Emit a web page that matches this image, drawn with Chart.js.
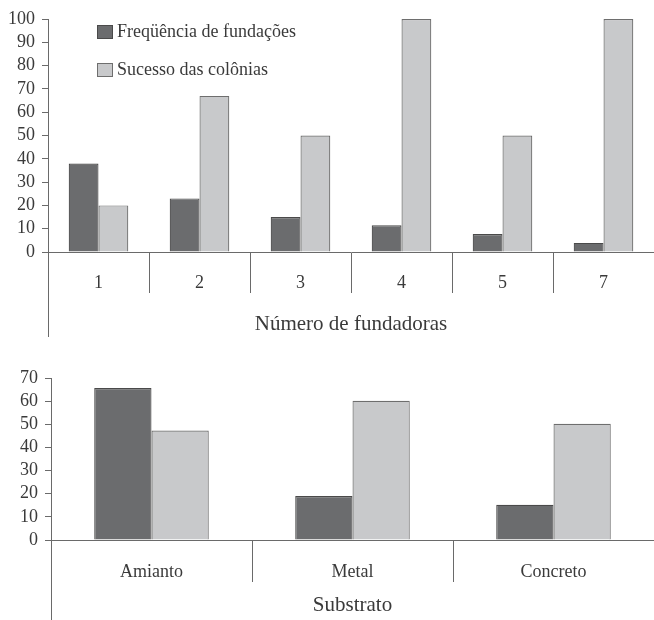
<!DOCTYPE html>
<html>
<head>
<meta charset="utf-8">
<script src="https://cdn.jsdelivr.net/npm/chart.js@4"></script>
<style>
  body { margin: 0; background: #fff; }
  #wrap { position: relative; width: 654px; height: 620px; overflow: hidden; }
  .box { position: absolute; left: 0; width: 654px; }
  #topBox { top: 0; height: 345px; }
  #botBox { top: 360px; height: 260px; }
  #legend { position: absolute; left: 97px; top: 21px; font-family: 'Liberation Serif', 'Times New Roman', serif; font-size: 18px; color: #3a3a3a; }
  #legend .item { display: flex; align-items: center; height: 21px; margin-bottom: 17px; }
  #legend .sw { width: 14px; height: 12px; border: 1px solid #4a4a4a; margin-right: 4px; }
</style>
</head>
<body>
<div id="wrap">
  <div class="box" id="topBox"><canvas id="topChart"></canvas></div>
  <div class="box" id="botBox"><canvas id="botChart"></canvas></div>
  <div id="legend"></div>
</div>
<script>
const seriesNames = ['Freqüência de fundações', 'Sucesso das colônias'];

const founders = ['1', '2', '3', '4', '5', '7'];
const foundFreq = [38, 23, 15, 11.5, 7.7, 3.9];
const foundSuccess = [20, 67, 50, 100, 50, 100];

const substrates = ['Amianto', 'Metal', 'Concreto'];
const subFreq = [65.7, 19, 15.2];
const subSuccess = [47.3, 60.2, 50.2];

const darkFill = '#6b6c6e';
const darkLine = '#4a4a4a';
const lightFill = '#c8c9cb';
const lightLine = '#6e6e6e';
const axisColor = '#6a6a6a';
const textColor = '#3a3a3a';
const serif = "'Liberation Serif', 'Times New Roman', serif";

Chart.defaults.font.family = serif;
Chart.defaults.color = textColor;

// left axis line continues down under the category labels
const axisDrop = {
    id: 'axisDrop',
    afterDraw(chart, args, opts) {
        const ctx = chart.ctx;
        const a = chart.chartArea;
        const x = Math.round(a.left) + 0.5;
        ctx.save();
        ctx.strokeStyle = axisColor;
        ctx.lineWidth = 1;
        ctx.beginPath();
        ctx.moveTo(x, a.bottom);
        ctx.lineTo(x, opts.to);
        ctx.stroke();
        ctx.restore();
    }
};

function makeChart(id, labels, freq, success, cfg) {
    return new Chart(document.getElementById(id), {
        type: 'bar',
        data: {
            labels: labels,
            datasets: [
                { label: seriesNames[0], data: freq, backgroundColor: darkFill, borderColor: darkLine, borderWidth: 1.2 },
                { label: seriesNames[1], data: success, backgroundColor: lightFill, borderColor: lightLine, borderWidth: 1.2 }
            ]
        },
        options: {
            responsive: true,
            maintainAspectRatio: false,
            animation: false,
            datasets: { bar: { categoryPercentage: cfg.catPct, barPercentage: 1 } },
            layout: { padding: { top: cfg.top, right: 0, left: 0, bottom: 0 } },
            plugins: {
                legend: { display: false },
                tooltip: { enabled: false },
                axisDrop: { to: cfg.dropTo }
            },
            scales: {
                x: {
                    grid: { offset: true, drawOnChartArea: false, drawTicks: true, tickLength: cfg.tickLen, color: axisColor },
                    border: { color: axisColor },
                    ticks: { padding: -21, font: { size: 18 }, color: textColor, maxRotation: 0 },
                    title: { display: true, text: cfg.title, font: { size: 21 }, color: textColor, padding: { top: 0, bottom: cfg.titlePad } },
                    afterFit: s => { s.height = cfg.xHeight; }
                },
                y: {
                    min: 0,
                    max: cfg.max,
                    ticks: { stepSize: 10, autoSkip: false, padding: 7, font: { size: 18 }, color: textColor },
                    grid: { drawOnChartArea: false, drawTicks: true, tickLength: 6, color: axisColor },
                    border: { color: axisColor },
                    afterFit: s => { s.width = cfg.yWidth; }
                }
            }
        },
        plugins: [axisDrop]
    });
}

const topChart = makeChart('topChart', founders, foundFreq, foundSuccess, {
    catPct: 0.59, top: 19, tickLen: 41, title: 'Número de fundadoras', titlePad: 8,
    xHeight: 93, max: 100, yWidth: 48, dropTo: 337
});

makeChart('botChart', substrates, subFreq, subSuccess, {
    catPct: 0.57, top: 18, tickLen: 42, title: 'Substrato', titlePad: 2,
    xHeight: 80, max: 70, yWidth: 51, dropTo: 260
});

// legend built from the datasets
const legend = document.getElementById('legend');
topChart.data.datasets.forEach(ds => {
    const item = document.createElement('div');
    item.className = 'item';
    const sw = document.createElement('span');
    sw.className = 'sw';
    sw.style.background = ds.backgroundColor;
    sw.style.borderColor = ds.borderColor;
    const txt = document.createElement('span');
    txt.textContent = ds.label;
    item.appendChild(sw);
    item.appendChild(txt);
    legend.appendChild(item);
});
</script>
</body>
</html>
